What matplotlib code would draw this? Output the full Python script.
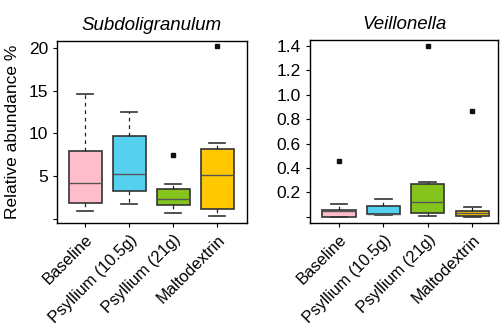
import matplotlib
matplotlib.use("Agg")
import matplotlib.pyplot as plt

plt.rcParams["font.family"] = ["Liberation Sans", "DejaVu Sans"]

groups = ["Baseline", "Psyllium (10.5g)", "Psyllium (21g)", "Maltodextrin"]
colors = ["#ffbccb", "#55d0ee", "#84c41c", "#ffc800"]

# Subdoligranulum: whislo, q1, med, q3, whishi, outliers
sub_lo = [0.95, 1.75, 0.67, 0.27]
sub_q1 = [1.85, 3.2, 1.65, 1.14]
sub_med = [4.2, 5.25, 2.3, 5.1]
sub_q3 = [7.9, 9.7, 3.45, 8.2]
sub_hi = [14.6, 12.5, 4.0, 8.8]
sub_out = [[], [], [7.5], [20.2]]

# Veillonella
vei_lo = [0.0, 0.014, 0.011, 0.0]
vei_q1 = [0.0, 0.02, 0.03, 0.008]
vei_med = [0.05, 0.027, 0.12, 0.03]
vei_q3 = [0.06, 0.093, 0.273, 0.046]
vei_hi = [0.107, 0.145, 0.284, 0.077]
vei_out = [[0.46], [], [1.40], [0.87]]


def make_stats(lo, q1, med, q3, hi, out):
    return [dict(whislo=a, q1=b, med=c, q3=d, whishi=e, fliers=f)
            for a, b, c, d, e, f in zip(lo, q1, med, q3, hi, out)]


def draw(ax, stats, title, ticks, ticklabels, ylim, xlim):
    bp = ax.bxp(stats, positions=range(1, 5), widths=0.75, patch_artist=True,
                boxprops=dict(edgecolor="#333333", linewidth=1.2),
                medianprops=dict(color="#555555", linewidth=1.0),
                whiskerprops=dict(color="#222222", linestyle=(0, (3, 3)), linewidth=0.9),
                capprops=dict(color="#333333", linewidth=1.2),
                flierprops=dict(marker="s", markersize=2.2, markerfacecolor="#111111",
                                markeredgecolor="#111111"))
    for patch, c in zip(bp["boxes"], colors):
        patch.set_facecolor(c)
    ax.set_xlim(*xlim)
    ax.set_ylim(*ylim)
    ax.set_yticks(ticks)
    ax.set_yticklabels(ticklabels, fontsize=12.5)
    ax.set_xticks(range(1, 5))
    ax.set_xticklabels(groups, rotation=45, ha="right", rotation_mode="anchor", fontsize=11.8)
    ax.set_title(title, fontstyle="italic", fontsize=13.5, pad=8)
    for s in ax.spines.values():
        s.set_linewidth(1.0)
    ax.tick_params(length=3, width=0.8)


fig = plt.figure(figsize=(5, 3.25), dpi=100)
ax1 = fig.add_axes([0.114, 0.314, 0.38, 0.56])
ax2 = fig.add_axes([0.62, 0.314, 0.376, 0.563])

draw(ax1, make_stats(sub_lo, sub_q1, sub_med, sub_q3, sub_hi, sub_out),
     "Subdoligranulum", [0, 5, 10, 15, 20], ["", "5", "10", "15", "20"],
     (-0.5, 20.8), (0.36, 4.68))
draw(ax2, make_stats(vei_lo, vei_q1, vei_med, vei_q3, vei_hi, vei_out),
     "Veillonella", [0, 0.2, 0.4, 0.6, 0.8, 1.0, 1.2, 1.4],
     ["", "0.2", "0.4", "0.6", "0.8", "1.0", "1.2", "1.4"],
     (-0.05, 1.45), (0.35, 4.58))
ax1.set_ylabel("Relative abundance %", fontsize=12.5, labelpad=6)

fig.savefig("out.png", dpi=100)
